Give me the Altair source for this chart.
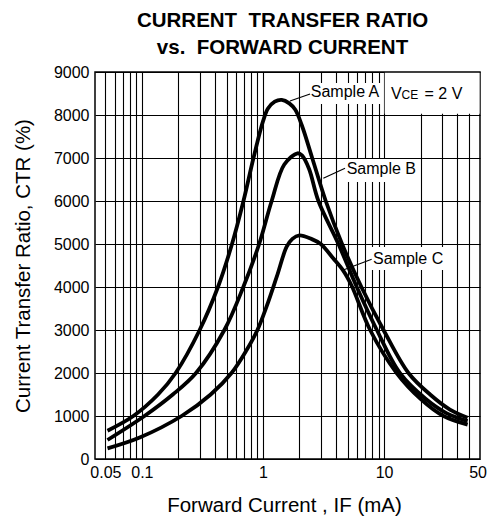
import altair as alt
import pandas as pd

# ---- curve data: forward current IF (mA) vs CTR (%) ----
a_if = [0.052, 0.085, 0.136, 0.19, 0.30, 0.425, 0.555, 0.69, 0.835, 1.0, 1.1, 1.25, 1.43, 1.65, 1.85, 2.1, 2.55, 3.3, 4.5, 6.5, 9.9, 15.9, 24, 35, 49]
a_ctr = [658, 1000, 1500, 2000, 3000, 4000, 5000, 6000, 7000, 7850, 8150, 8310, 8350, 8270, 8120, 7750, 7000, 6000, 5000, 4000, 3000, 2000, 1500, 1150, 960]

b_if = [0.052, 0.105, 0.18, 0.28, 0.48, 0.688, 0.93, 1.18, 1.5, 1.93, 2.1, 2.4, 2.87, 4.2, 5.95, 8.72, 13.5, 22, 33, 49]
b_ctr = [442, 1000, 1500, 2000, 3000, 4000, 5000, 6000, 6850, 7110, 7060, 6750, 6000, 5000, 4000, 3000, 2000, 1400, 1060, 880]

c_if = [0.052, 0.096, 0.213, 0.37, 0.55, 0.733, 0.9, 1.07, 1.30, 1.57, 1.75, 2.0, 2.5, 3.0, 3.8, 4.6, 5.4, 7.67, 12.7, 20, 31, 49]
c_ctr = [248, 500, 1000, 1500, 2000, 2535, 3000, 3542, 4240, 4937, 5120, 5200, 5120, 5000, 4667, 4380, 4030, 3000, 2000, 1400, 1000, 800]

samples = ["Sample A", "Sample B", "Sample C"]

# ---- axes ----
x_domain = [0.041, 62]
y_domain = [0, 9000]
x_grid_values = [0.05, 0.06, 0.07, 0.08, 0.09, 0.1, 0.2, 0.3, 0.4, 0.5, 0.6, 0.7, 0.8, 0.9,
                 1, 2, 3, 4, 5, 6, 7, 8, 9, 10, 20, 30, 40, 50]
x_tick_values = [0.05, 0.1, 1, 10, 50]
x_tick_labels = ["0.05", "0.1", "1", "10", "50"]
y_tick_values = [0, 1000, 2000, 3000, 4000, 5000, 6000, 7000, 8000, 9000]

# ---- annotations ----
label_text = ["Sample A", "Sample B", "Sample C"]
label_if = [4.76, 9.5, 15.8]
label_ctr = [8426, 6628, 4535]

leader_if = [2.45, 4.76, 7.9]
leader_ctr = [8488, 6760, 4644]
leader_if2 = [1.67, 3.15, 4.6]
leader_ctr2 = [8326, 6528, 4395]

box_if = [2.31, 4.76, 7.66, 10.12]
box_if2 = [9.44, 19.1, 31.8, 61.5]
box_ctr = [8256, 6442, 4395, 8030]
box_ctr2 = [8744, 6977, 4930, 8985]

vce_if = [13.95]
vce_ctr = [8365]

title_lines = ["CURRENT\u00a0 TRANSFER RATIO", "vs.\u00a0 FORWARD CURRENT"]

FONT = "Liberation Sans"

curves = pd.concat([
    pd.DataFrame({"IF": a_if, "CTR": a_ctr, "sample": samples[0]}),
    pd.DataFrame({"IF": b_if, "CTR": b_ctr, "sample": samples[1]}),
    pd.DataFrame({"IF": c_if, "CTR": c_ctr, "sample": samples[2]}),
], ignore_index=True)

labels_df = pd.DataFrame({"IF": label_if, "CTR": label_ctr, "label": label_text})
leaders_df = pd.DataFrame({"IF": leader_if, "CTR": leader_ctr, "IF2": leader_if2, "CTR2": leader_ctr2})
boxes_df = pd.DataFrame({"IF": box_if, "CTR": box_ctr, "IF2": box_if2, "CTR2": box_ctr2})
vce_df = pd.DataFrame({"IF": vce_if, "CTR": vce_ctr})

label_expr = " : ".join(
    f"datum.value == {v} ? '{t}'" for v, t in zip(x_tick_values, x_tick_labels)
) + " : ''"

x_enc = alt.X(
    "IF:Q",
    scale=alt.Scale(type="log", domain=x_domain, nice=False),
    axis=alt.Axis(
        values=x_grid_values,
        labelExpr=label_expr,
        title="Forward Current , IF (mA)",
        grid=True, ticks=False, domain=False,
        labelFontSize=16, labelPadding=5, labelColor="black",
        labelFlush=False, labelOverlap=False,
        labelAlign={"condition": {"test": "datum.value == 50", "value": "left"}, "value": "center"},
        titleFontSize=20.5, titleFontWeight="normal", titleColor="black",
        titleX=189, titleY=46, titleBaseline="middle", titleAlign="center",
    ),
)
y_enc = alt.Y(
    "CTR:Q",
    scale=alt.Scale(domain=y_domain, nice=False),
    axis=alt.Axis(
        values=y_tick_values,
        format="d",
        title="Current Transfer Ratio, CTR (%)",
        grid=True, ticks=False, domain=False,
        labelFontSize=16, labelPadding=6, labelColor="black",
        titleFontSize=20.5, titleFontWeight="normal", titleColor="black",
        titleX=-71.5, titleY=193.5, titleBaseline="middle", titleAlign="center",
        titleAngle=270,
    ),
)

boxes = alt.Chart(boxes_df).mark_rect(fill="white", stroke=None).encode(
    x=x_enc, x2="IF2:Q", y=y_enc, y2="CTR2:Q"
)

lines = alt.Chart(curves).mark_line(
    color="black", strokeWidth=3.8, interpolate="catmull-rom"
).encode(x=x_enc, y=y_enc, detail="sample:N")

leaders = alt.Chart(leaders_df).mark_rule(color="black", strokeWidth=1.2).encode(
    x=x_enc, x2="IF2:Q", y=y_enc, y2="CTR2:Q"
)

labels = alt.Chart(labels_df).mark_text(
    fontSize=16, font=FONT, color="black", align="center", baseline="alphabetic"
).encode(x=x_enc, y=y_enc, text="label:N")

vce_v = alt.Chart(vce_df).mark_text(
    text="V", fontSize=16, font=FONT, color="black", align="right", baseline="alphabetic"
).encode(x=x_enc, y=y_enc)
vce_sub = alt.Chart(vce_df).mark_text(
    text="CE", fontSize=12, font=FONT, color="black", align="left", baseline="alphabetic"
).encode(x=x_enc, y=y_enc)
vce_rest = alt.Chart(vce_df).mark_text(
    text="= 2 V", fontSize=16, font=FONT, color="black", align="left", baseline="alphabetic", dx=23
).encode(x=x_enc, y=y_enc)

chart = alt.layer(boxes, lines, leaders, labels, vce_v, vce_sub, vce_rest).properties(
    width=385,
    height=387,
    autosize=alt.AutoSizeParams(type="none"),
    padding={"left": 95, "top": 72, "right": 12, "bottom": 58},
    title=alt.Title(
        title_lines,
        fontSize=20.5, fontWeight="bold", font=FONT, color="black",
        anchor="middle", lineHeight=26.5, offset=6, dx=-5,
    ),
).configure(
    font=FONT,
    background="white",
).configure_view(
    stroke="black", strokeWidth=1.5
).configure_axis(
    gridColor="black", gridOpacity=1, gridWidth=1.1, labelFont=FONT, titleFont=FONT
)

chart.save("out.html", embed_options={"renderer": "svg", "actions": False})
